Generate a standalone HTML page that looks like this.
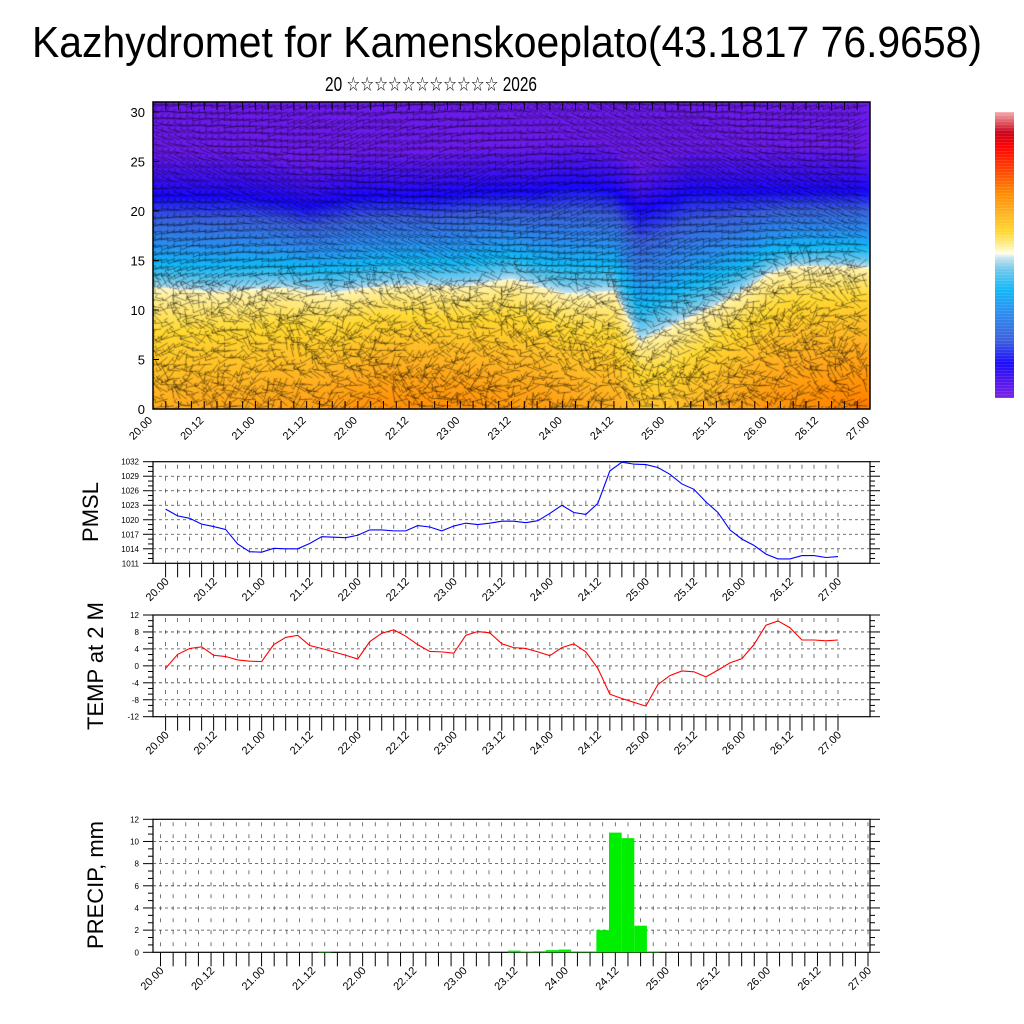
<!DOCTYPE html>
<html><head><meta charset="utf-8"><style>
html,body{margin:0;padding:0;background:#fff;}
#wrap{position:relative;width:1024px;height:1024px;overflow:hidden;font-family:"Liberation Sans","DejaVu Sans",sans-serif;}
#heat{position:absolute;left:153px;top:102px;}
#cbar{position:absolute;left:995px;top:112px;}
#svg{position:absolute;left:0;top:0;}
</style></head><body>
<div id="wrap">
<canvas id="heat" width="717" height="307"></canvas>
<canvas id="cbar" width="19" height="286"></canvas>
<svg id="svg" width="1024" height="1024" xmlns="http://www.w3.org/2000/svg">
<text x="507" y="57" font-size="44" text-anchor="middle" textLength="950" lengthAdjust="spacingAndGlyphs" font-family="Liberation Sans, sans-serif">Kazhydromet for Kamenskoeplato(43.1817 76.9658)</text>
<text x="431" y="91" font-size="20" text-anchor="middle" textLength="212" lengthAdjust="spacingAndGlyphs" font-family="Liberation Sans, DejaVu Sans, sans-serif">20 ☆☆☆☆☆☆☆☆☆☆☆ 2026</text>
<g id="g"></g>
</svg>
</div>
<script>
// ---- data ----
const dateLabels = ["20.00","20.12","21.00","21.12","22.00","22.12","23.00","23.12","24.00","24.12","25.00","25.12","26.00","26.12","27.00"];
const pmsl = [1022.2,1020.8,1020.3,1019.1,1018.6,1018.0,1015.0,1013.4,1013.3,1014.1,1014.0,1014.0,1015.1,1016.5,1016.4,1016.3,1016.8,1017.9,1017.9,1017.7,1017.7,1018.8,1018.5,1017.7,1018.7,1019.3,1019.0,1019.3,1019.7,1019.7,1019.4,1019.8,1021.3,1023.0,1021.5,1021.1,1023.4,1030.1,1031.9,1031.5,1031.4,1030.8,1029.4,1027.4,1026.3,1023.7,1021.5,1017.9,1016.0,1014.7,1012.9,1011.9,1011.9,1012.6,1012.6,1012.2,1012.4];
const pmslTicks = [1011,1014,1017,1020,1023,1026,1029,1032];
const temp2m = [-0.6,2.7,4.1,4.5,2.5,2.2,1.4,1.1,1.0,5.0,6.7,7.2,4.8,4.1,3.3,2.5,1.6,5.7,7.7,8.5,7.0,5.0,3.4,3.3,3.0,7.2,8.1,7.8,5.2,4.3,4.1,3.3,2.4,4.3,5.2,3.3,-0.6,-6.7,-7.7,-8.6,-9.5,-4.4,-2.3,-1.2,-1.4,-2.6,-1.0,0.7,1.7,5.0,9.6,10.6,9.0,6.1,6.1,5.9,6.1];
const tempTicks = [-12,-8,-4,0,4,8,12];
const precip = [0,0,0,0,0,0,0,0,0,0,0,0,0,0.05,0,0,0,0,0,0,0,0,0,0,0,0,0,0,0.15,0.05,0.1,0.2,0.25,0.05,0.05,2.0,10.8,10.3,2.4,0.05,0,0,0,0,0,0,0,0,0,0,0,0,0,0,0,0,0];
const precipTicks = [0,2,4,6,8,10,12];
const heightTicks = [0,5,10,15,20,25,30];
// cross-section knots every 6h (hour 0..168)
const freezeZ = [12.3,12.2,12.0,12.0,12.2,12.3,12.0,11.8,12.2,12.5,12.6,12.5,12.5,12.8,13.2,12.5,11.8,11.8,12.0,7.0,8.2,9.4,10.6,12.0,13.7,14.5,14.5,14.5,14.4];
const tropoZ = [21.5,21.5,21.5,21.5,21.3,21.0,20.5,21.0,21.5,21.5,21.5,21.5,21.8,22.0,22.0,22.0,22.5,22.5,22.0,20.0,21.0,22.0,22.0,22.0,22.0,22.0,22.0,22.0,22.0];
const surfT = [0.66,0.66,0.67,0.67,0.67,0.68,0.68,0.69,0.70,0.71,0.71,0.71,0.71,0.70,0.69,0.69,0.68,0.67,0.66,0.63,0.62,0.64,0.66,0.68,0.70,0.71,0.72,0.73,0.74];

const NS="http://www.w3.org/2000/svg";
const G=document.getElementById('g');
function el(tag,attrs,parent){const e=document.createElementNS(NS,tag);for(const k in attrs)e.setAttribute(k,attrs[k]);(parent||G).appendChild(e);return e;}

// ---- colormap ----
const stops=[[0,[122,30,232]],[0.08,[60,16,240]],[0.12,[24,8,255]],[0.2,[58,95,220]],[0.3,[42,142,240]],[0.38,[16,184,248]],[0.45,[112,200,236]],[0.49,[200,228,240]],[0.505,[255,255,235]],[0.53,[255,240,160]],[0.58,[255,216,48]],[0.65,[255,176,32]],[0.72,[255,136,0]],[0.8,[255,64,0]],[0.88,[255,0,0]],[0.93,[200,0,24]],[1,[244,168,168]]];
function cmap(t){t=Math.max(0,Math.min(1,t));for(let i=1;i<stops.length;i++){if(t<=stops[i][0]){const a=stops[i-1],b=stops[i];const f=(t-a[0])/(b[0]-a[0]);return [0,1,2].map(k=>a[1][k]+(b[1][k]-a[1][k])*f);}}return stops[stops.length-1][1];}
function knot(arr,h){const p=h/6;const i=Math.min(arr.length-2,Math.floor(p));const f=p-i;return arr[i]*(1-f)+arr[i+1]*f;}
function fieldT(h,z){const fz=knot(freezeZ,h),tz=knot(tropoZ,h),st=knot(surfT,h);
 if(z<=fz){return 0.515+(st-0.515)*Math.pow(1-z/fz,0.8);}
 if(z<=tz){return 0.49-(0.49-0.12)*Math.pow((z-fz)/(tz-fz),0.9);}
 return 0.12-0.1*Math.min(1,(z-tz)/4.5);}

// heatmap
(function(){const c=document.getElementById('heat'),ctx=c.getContext('2d');const W=717,H=307;const img=ctx.createImageData(W,H);
for(let py=0;py<H;py++){const z=(H-py)/9.9;for(let px=0;px<W;px++){const h=px/W*168;const col=cmap(fieldT(h,z));const o=(py*W+px)*4;img.data[o]=col[0];img.data[o+1]=col[1];img.data[o+2]=col[2];img.data[o+3]=255;}}
ctx.putImageData(img,0,0);
// wind barbs texture (decorative)
function hsh(a,b){const s=Math.sin(a*12.9898+b*78.233)*43758.5453;return s-Math.floor(s);}
ctx.strokeStyle='rgba(0,0,0,0.6)';ctx.lineWidth=0.7;
for(let gx=2;gx<W;gx+=6.3){for(let gy=3;gy<H;gy+=7){const h=gx/W*168,z=(H-gy)/9.9;const fz=knot(freezeZ,h);
 let ang;if(z>fz+1){ang=Math.PI+0.35*Math.sin(h*0.05+z*0.3)+0.3*(hsh(gx,gy)-0.5);}else{ang=Math.PI+2.2*(hsh(gx,gy)-0.5)+0.5*Math.sin(h*0.11+z*0.7);}
 const L=13;const dx=Math.cos(ang)*L,dy=Math.sin(ang)*L;ctx.beginPath();ctx.moveTo(gx,gy);ctx.lineTo(gx+dx,gy+dy);
 const tx=gx+dx,ty=gy+dy;ctx.lineTo(tx+Math.cos(ang+1.9)*4,ty+Math.sin(ang+1.9)*4);ctx.stroke();}}
})();
// colorbar
(function(){const c=document.getElementById('cbar'),ctx=c.getContext('2d');for(let y=0;y<286;y++){const col=cmap(1-y/285);ctx.fillStyle='rgb('+col.map(Math.round).join(',')+')';ctx.fillRect(0,y,19,1);if(y%3==0){ctx.fillStyle='rgba(255,255,255,0.15)';ctx.fillRect(0,y,19,1);}}})();

// ---- top panel axes ----
const TL=153,TR=870,TT=102,TB=409;
function xH(h){return TL+h/168*(TR-TL);}
function yZ(z){return TB-z*9.9;}
el('rect',{x:TL,y:TT,width:TR-TL,height:TB-TT,fill:'none',stroke:'#000','stroke-width':1.5,});
heightTicks.forEach(v=>{const y=yZ(v);
 const t=el('text',{x:145,y:y+5,'font-size':13,'text-anchor':'end'});t.textContent=v;
 
 el('line',{x1:TL,x2:TL+6,y1:y,y2:y,stroke:'#000'});});
for(let i=0;i<=56;i++){const x=xH(i*3);el('line',{x1:x,x2:x,y1:TB,y2:TB-8,stroke:'#000'});el('line',{x1:x,x2:x,y1:TT,y2:TT+8,stroke:'#000'});}
dateLabels.forEach((lab,i)=>{const x=xH(i*12);const t=el('text',{x:x,y:TB+12,'font-size':11,'text-anchor':'end',transform:'rotate(-45 '+x+' '+(TB+12)+')'});t.textContent=lab;
 });

// ---- generic line panel ----
function panel(opt){
 const {top,bot,left,right,ticks,vmin,vmax,x0,x1,name,label,labelY}=opt;
 const y=v=>bot-(v-vmin)/(vmax-vmin)*(bot-top);
 const x=i=>x0+i*(x1-x0)/56;
 el('rect',{x:left,y:top,width:right-left,height:bot-top,fill:'none',stroke:'#000','stroke-width':1.2,});
 for(let i=0;i<=56;i++){el('line',{x1:x(i),x2:x(i),y1:top+3,y2:bot,stroke:'#555','stroke-width':0.8,'stroke-dasharray':'4 8'});}
 const step=ticks[1]-ticks[0];
 ticks.forEach(v=>{const yy=y(v);
  if(v!==vmin&&v!==vmax)el('line',{x1:left,x2:right,y1:yy,y2:yy,stroke:'#444','stroke-width':0.8,'stroke-dasharray':'3 3'});
  el('line',{x1:left-10,x2:left,y1:yy,y2:yy,stroke:'#000'});el('line',{x1:right,x2:right+10,y1:yy,y2:yy,stroke:'#000'});
  const t=el('text',{x:left-14,y:yy+3,'font-size':8,'text-anchor':'end'});t.textContent=v;
  
  if(v<vmax){for(let k=1;k<3;k++){const ym=y(v+step*k/3);el('line',{x1:left-5,x2:left,y1:ym,y2:ym,stroke:'#000'});el('line',{x1:right,x2:right+5,y1:ym,y2:ym,stroke:'#000'});}}
 });
 for(let i=0;i<=56;i++){el('line',{x1:x(i),x2:x(i),y1:bot,y2:bot+14,stroke:'#000'});}
 dateLabels.forEach((lab,i)=>{const xx=x(i*4)+4,yy=bot+19;const t=el('text',{x:xx,y:yy,'font-size':11,'text-anchor':'end',transform:'rotate(-45 '+xx+' '+yy+')'});t.textContent=lab;
  });
 const lt=el('text',{x:opt.labelX,y:labelY,'font-size':22,'text-anchor':'middle',transform:'rotate(-90 '+opt.labelX+' '+labelY+')'});lt.textContent=label;
 
 return {x,y};
}
const P=panel({top:461.7,bot:563.3,left:153,right:870,ticks:pmslTicks,vmin:1011,vmax:1032,x0:165.6,x1:838,name:'pmsl',label:'PMSL',labelX:98,labelY:512});
const pl=el('polyline',{points:pmsl.map((v,i)=>P.x(i)+','+P.y(v)).join(' '),fill:'none',stroke:'#0000ff','stroke-width':1.1});

const T=panel({top:615,bot:716.7,left:153,right:870,ticks:tempTicks,vmin:-12,vmax:12,x0:165.6,x1:838,name:'temp',label:'TEMP at 2 M',labelX:103,labelY:666});
const tl=el('polyline',{points:temp2m.map((v,i)=>T.x(i)+','+T.y(v)).join(' '),fill:'none',stroke:'#ff0000','stroke-width':1.1});

const R=panel({top:819.3,bot:952.3,left:153,right:870,ticks:precipTicks,vmin:0,vmax:12,x0:160.5,x1:868,name:'precip',label:'PRECIP, mm',labelX:103,labelY:885});
const bw=(868-160.5)/56;
precip.forEach((v,i)=>{if(v<=0)return;const b=el('rect',{x:R.x(i)-bw/2,y:R.y(v),width:bw,height:R.y(0)-R.y(v),fill:'#00ee00'});
 });
</script>
</body></html>
